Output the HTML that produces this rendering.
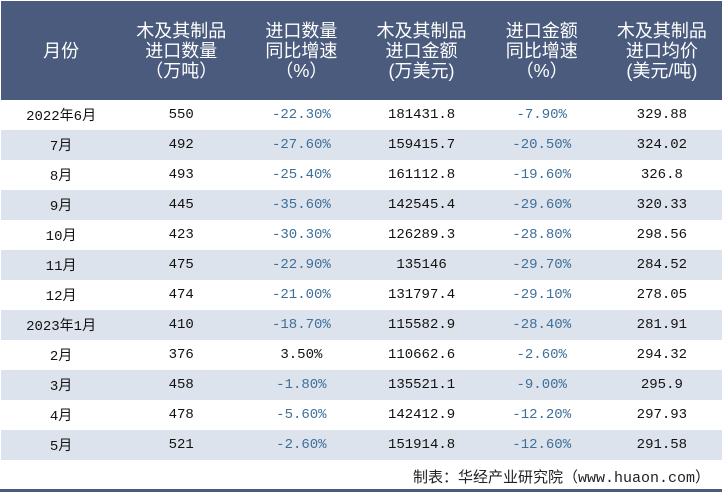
<!DOCTYPE html>
<html><head><meta charset="utf-8">
<style>
body{margin:0;width:722px;height:492px;background:#fff;overflow:hidden;font-family:"Liberation Sans","Noto Sans CJK SC",sans-serif;}
table{border-collapse:collapse;width:721px;position:absolute;left:1px;top:1px;table-layout:fixed;}
th{background:#4a5b7d;color:#fff;font-weight:normal;font-size:18px;line-height:20px;height:99px;padding:0;}
td{height:30px;padding:0;text-align:center;font-size:14px;font-family:"Liberation Mono","Noto Sans CJK SC",monospace;color:#111;}
tr.alt td{background:#dde3ec;}
td.p{color:#3d6f9a;}
.foot{position:absolute;top:464px;right:12px;font-size:15px;line-height:30px;color:#222;font-family:"Liberation Mono","Noto Sans CJK SC",monospace;}
.bar{position:absolute;left:0;top:489px;width:722px;height:3px;background:#4a5b7d;}
</style></head><body>
<table>
<tr>
<th>月份</th>
<th>木及其制品<br>进口数量<br>（万吨）</th>
<th>进口数量<br>同比增速<br>（%）</th>
<th>木及其制品<br>进口金额<br>(万美元)</th>
<th>进口金额<br>同比增速<br>（%）</th>
<th>木及其制品<br>进口均价<br>(美元/吨)</th>
</tr>
<tbody id="tb"></tbody>
</table>
<div class="foot">制表：华经产业研究院（www.huaon.com）</div>
<div class="bar"></div>
<script>
const months=["2022年6月","7月","8月","9月","10月","11月","12月","2023年1月","2月","3月","4月","5月"];
const volume=["550","492","493","445","423","475","474","410","376","458","478","521"];
const volumeYoy=["-22.30%","-27.60%","-25.40%","-35.60%","-30.30%","-22.90%","-21.00%","-18.70%","3.50%","-1.80%","-5.60%","-2.60%"];
const amount=["181431.8","159415.7","161112.8","142545.4","126289.3","135146","131797.4","115582.9","110662.6","135521.1","142412.9","151914.8"];
const amountYoy=["-7.90%","-20.50%","-19.60%","-29.60%","-28.80%","-29.70%","-29.10%","-28.40%","-2.60%","-9.00%","-12.20%","-12.60%"];
const price=["329.88","324.02","326.8","320.33","298.56","284.52","278.05","281.91","294.32","295.9","297.93","291.58"];
const tb=document.getElementById('tb');
months.forEach((m,i)=>{
  const tr=document.createElement('tr');
  
  
  if(i%2===1)tr.className='alt';
  const vals=[m,volume[i],volumeYoy[i],amount[i],amountYoy[i],price[i]];
  vals.forEach((v,j)=>{
    const td=document.createElement('td');
    
    
    if((j===2||j===4)&&v.startsWith('-'))td.className='p';
    td.textContent=v;
    tr.appendChild(td);
  });
  tb.appendChild(tr);
});
</script>
</body></html>
